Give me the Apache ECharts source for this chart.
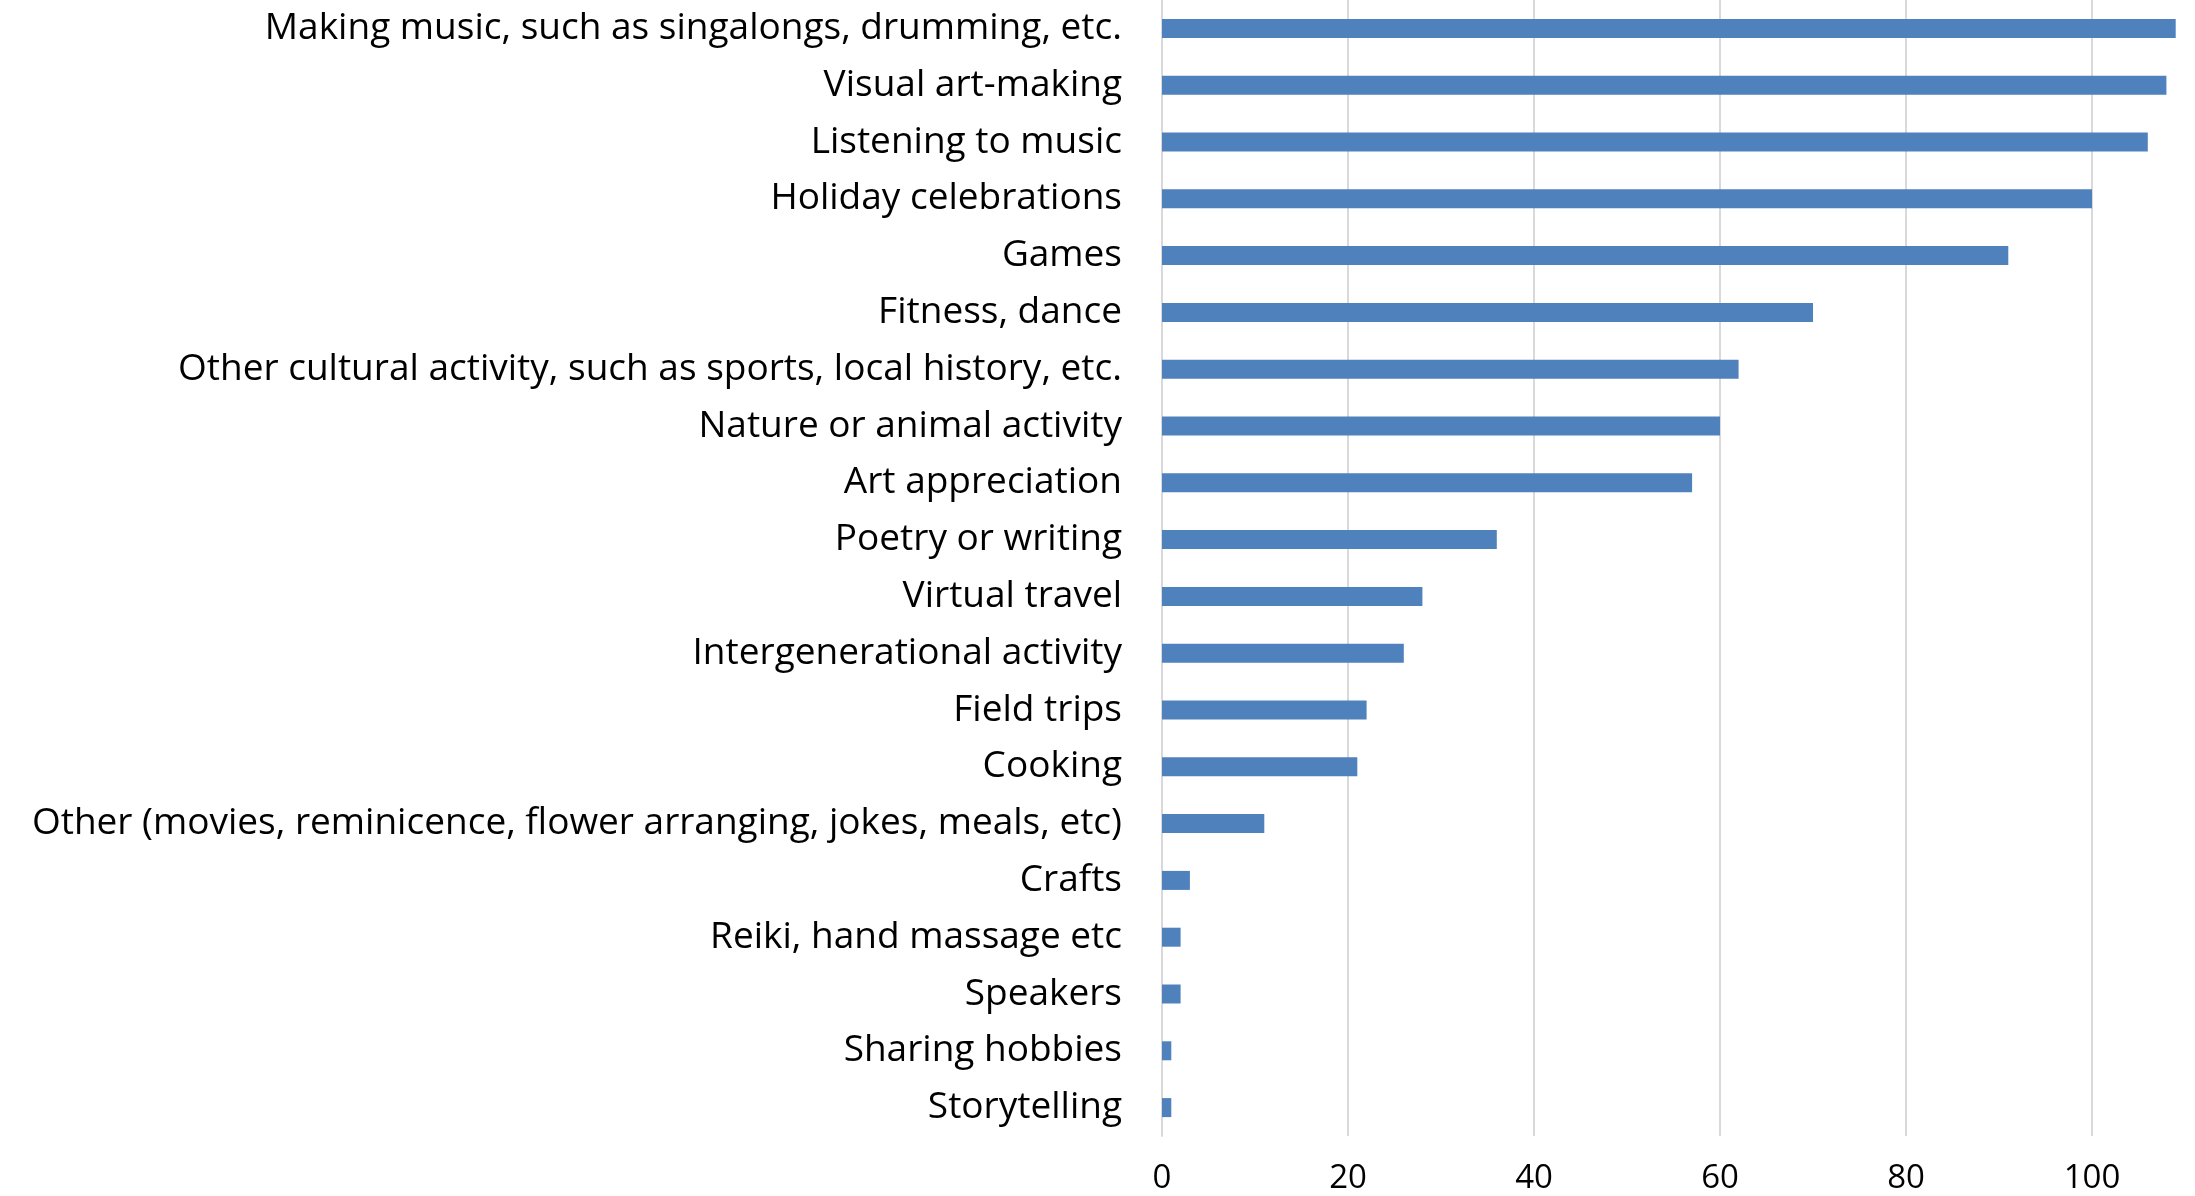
<!DOCTYPE html>
<html>
<head>
<meta charset="utf-8">
<title>Activities offered</title>
<script src="https://cdn.jsdelivr.net/npm/echarts@6/dist/echarts.min.js"></script>
<style>
  html, body { margin: 0; padding: 0; background: #ffffff; }
  #chart { width: 2195px; height: 1196px; }
</style>
</head>
<body>
<div id="chart"></div>
<script>
// Activity categories, top to bottom as they appear on the chart
const categories = [
  'Making music, such as singalongs, drumming, etc.',
  'Visual art-making',
  'Listening to music',
  'Holiday celebrations',
  'Games',
  'Fitness, dance',
  'Other cultural activity, such as sports, local history, etc.',
  'Nature or animal activity',
  'Art appreciation',
  'Poetry or writing',
  'Virtual travel',
  'Intergenerational activity',
  'Field trips',
  'Cooking',
  'Other (movies, reminicence, flower arranging, jokes, meals, etc)',
  'Crafts',
  'Reiki, hand massage etc',
  'Speakers',
  'Sharing hobbies',
  'Storytelling'
];

// Number of responses for each activity
const counts = [109, 108, 106, 100, 91, 70, 62, 60, 57, 36, 28, 26, 22, 21, 11, 3, 2, 2, 1, 1];

// Value axis ticks
const axisMin = 0;
const axisMax = 120;
const axisStep = 20;

const labelFont = '"Open Sans", "Noto Sans", sans-serif';

const chart = echarts.init(document.getElementById('chart'), null, { renderer: 'canvas' });

// The plot runs past the right edge of the canvas, so the last gridline (120) is cut off
chart.setOption({
  animation: false,
  backgroundColor: '#ffffff',
  grid: {
    left: 1162,
    width: 1116,
    top: 0,
    bottom: 60,
    outerBoundsMode: 'none',
    containLabel: false
  },
  xAxis: {
    type: 'value',
    min: axisMin,
    max: axisMax,
    interval: axisStep,
    axisLine: { show: false },
    axisTick: { show: false },
    axisLabel: {
      color: '#000000',
      fontFamily: labelFont,
      fontSize: 33,
      margin: 26
    },
    splitLine: { show: true, lineStyle: { color: '#d9d9d9', width: 2 } }
  },
  yAxis: {
    type: 'category',
    inverse: true,
    data: categories,
    axisLine: { show: true, lineStyle: { color: '#d9d9d9', width: 2 } },
    axisTick: { show: false },
    axisLabel: {
      color: '#000000',
      fontFamily: labelFont,
      fontSize: 37,
      margin: 40
    },
    splitLine: { show: false }
  },
  series: [{
    type: 'bar',
    data: counts,
    barWidth: 19,
    itemStyle: { color: '#4f81bd' }
  }]
});
</script>
</body>
</html>
